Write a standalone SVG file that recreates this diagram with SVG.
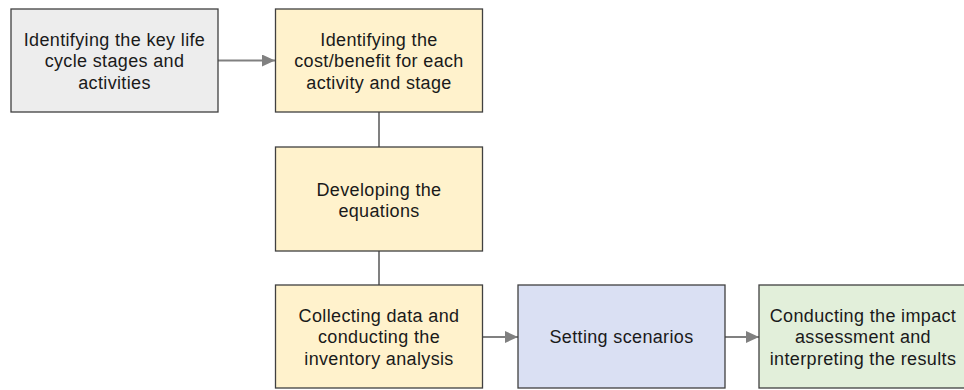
<svg xmlns="http://www.w3.org/2000/svg" width="964" height="390" viewBox="0 0 964 390">
  <style>
    .box { stroke: #404040; stroke-width: 1.3; }
    .grey { fill: #ededed; }
    .yellow { fill: #fff2cc; }
    .blue { fill: #dae0f3; }
    .green { fill: #e2efda; }
    .label { font-family: "Liberation Sans", Arial, sans-serif; font-size: 18px; letter-spacing: 0.35px; fill: #1a1a1a; text-anchor: middle; }
    .wire { stroke: #808080; stroke-width: 2; fill: none; }
  </style>
  <defs>
    <marker id="head" viewBox="0 0 13 12" refX="13" refY="6" markerWidth="13" markerHeight="12" markerUnits="userSpaceOnUse" orient="auto">
      <path d="M0,0 L13,6 L0,12 Z" fill="#808080"/>
    </marker>
  </defs>
  <rect width="964" height="390" fill="#ffffff"/>

  <g id="connectors">
    <line class="wire" x1="218" y1="60.5" x2="275" y2="60.5" marker-end="url(#head)"/>
    <line class="wire" x1="379" y1="112" x2="379" y2="147"/>
    <line class="wire" x1="379" y1="251" x2="379" y2="285"/>
    <line class="wire" x1="483" y1="337" x2="518" y2="337" marker-end="url(#head)"/>
    <line class="wire" x1="725" y1="337" x2="759" y2="337" marker-end="url(#head)"/>
  </g>

  <g id="stages">
    <rect class="box grey" x="11" y="9" width="207" height="103"/>
    <text class="label" x="114.5"><tspan x="114.5" y="45.5">Identifying the key life</tspan><tspan x="114.5" y="67">cycle stages and</tspan><tspan x="114.5" y="88.5">activities</tspan></text>
  </g>

  <g id="cost-benefit">
    <rect class="box yellow" x="275.5" y="9" width="207" height="103"/>
    <text class="label"><tspan x="379" y="45.5">Identifying the</tspan><tspan x="379" y="67">cost/benefit for each</tspan><tspan x="379" y="88.5">activity and stage</tspan></text>
  </g>

  <g id="equations">
    <rect class="box yellow" x="275.5" y="147" width="207" height="104"/>
    <text class="label"><tspan x="379" y="195.75">Developing the</tspan><tspan x="379" y="217.25">equations</tspan></text>
  </g>

  <g id="inventory">
    <rect class="box yellow" x="275.5" y="285" width="207" height="103"/>
    <text class="label"><tspan x="379" y="321.5">Collecting data and</tspan><tspan x="379" y="343">conducting the</tspan><tspan x="379" y="364.5">inventory analysis</tspan></text>
  </g>

  <g id="scenarios">
    <rect class="box blue" x="518" y="285" width="207" height="103"/>
    <text class="label" x="621.5" y="343">Setting scenarios</text>
  </g>

  <g id="impact">
    <rect class="box green" x="759" y="285" width="208" height="103"/>
    <text class="label"><tspan x="863" y="321.5">Conducting the impact</tspan><tspan x="863" y="343">assessment and</tspan><tspan x="863" y="364.5">interpreting the results</tspan></text>
  </g>
</svg>
